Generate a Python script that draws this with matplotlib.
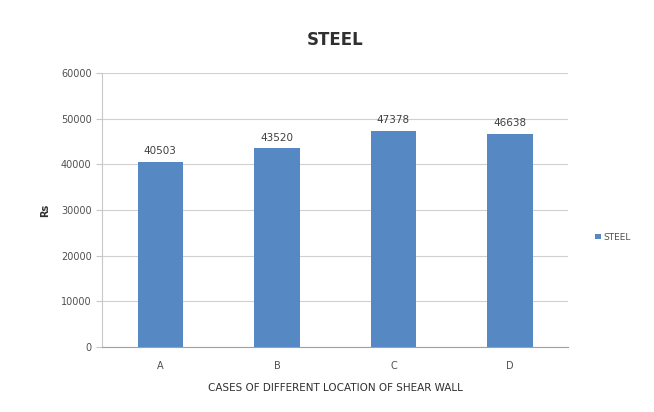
import matplotlib.pyplot as plt

# steel quantity per shear wall location case
cases = ['A', 'B', 'C', 'D']
steel = [40503, 43520, 47378, 46638]
yticks = [0, 10000, 20000, 30000, 40000, 50000, 60000]

fig = plt.figure(figsize=(6.54, 4.12), dpi=100)
ax = fig.add_axes([0.156, 0.158, 0.713, 0.665])

bars = ax.bar(cases, steel, width=0.39, color='#5689C4', label='STEEL', zorder=3)
for rect, v in zip(bars, steel):
    ax.text(rect.get_x() + rect.get_width() / 2, v + 1200, str(v),
            ha='center', va='bottom', fontsize=7.5, color='#404040')

ax.set_ylim(0, 60000)
ax.set_xlim(-0.5, 3.5)
ax.set_yticks(yticks)
ax.yaxis.grid(True, color='#d0d0d0', linewidth=0.8, zorder=0)
for s in ['top', 'right']:
    ax.spines[s].set_visible(False)
ax.spines['left'].set_color('#c8c8c8')
ax.spines['bottom'].set_color('#a0a0a0')
ax.tick_params(axis='y', labelsize=7, colors='#c8c8c8', labelcolor='#505050', length=4)
ax.tick_params(axis='x', labelsize=7, length=0, pad=10, labelcolor='#505050')

ax.set_title('STEEL', fontsize=12, fontweight='bold', color='#303030', pad=20)
ax.set_xlabel('CASES OF DIFFERENT LOCATION OF SHEAR WALL', fontsize=7.5, color='#303030', labelpad=9)
ax.set_ylabel('Rs', fontsize=7, fontweight='bold', color='#303030', labelpad=8)

ax.legend(loc='center left', bbox_to_anchor=(1.04, 0.40), frameon=False,
          fontsize=6.5, handlelength=0.6, handleheight=0.6, handletextpad=0.3,
          labelcolor='#505050')

fig.savefig('out.png', dpi=100)
